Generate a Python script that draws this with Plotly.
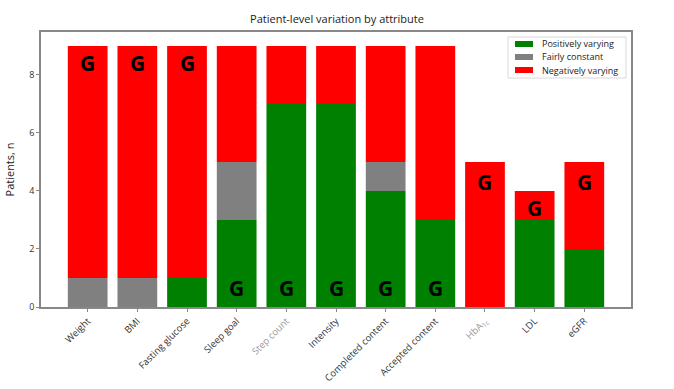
import plotly.graph_objects as go

categories = ["Weight", "BMI", "Fasting glucose", "Sleep goal", "Step count", "Intensity",
              "Completed content", "Accepted content", "HbA1c", "LDL", "eGFR"]
tick_labels = ["Weight", "BMI", "Fasting glucose", "Sleep goal",
               "<span style='color:#999999'>Step count</span>", "Intensity",
               "Completed content", "Accepted content",
               "<span style='color:#999999'>HbA<sub>1c</sub></span>", "LDL", "eGFR"]
positive = [0, 0, 1, 3, 7, 7, 4, 3, 0, 3, 2]
constant = [1, 1, 0, 2, 0, 0, 1, 0, 0, 0, 0]
negative = [8, 8, 8, 4, 2, 2, 4, 6, 5, 1, 3]
g_y = [8.4, 8.4, 8.4, 0.65, 0.65, 0.65, 0.65, 0.65, 4.3, 3.4, 4.3]
series_names = ["Positively varying", "Fairly constant", "Negatively varying"]
series_colors = ["#008000", "#808080", "#ff0000"]

x = list(range(len(categories)))
base_neg = [p + c for p, c in zip(positive, constant)]

fig = go.Figure()
fig.add_trace(go.Bar(x=x, y=positive, name=series_names[0], marker_color=series_colors[0],
                     marker_line_width=0, width=0.8))
fig.add_trace(go.Bar(x=x, y=constant, base=positive, name=series_names[1], marker_color=series_colors[1],
                     marker_line_width=0, width=0.8))
fig.add_trace(go.Bar(x=x, y=negative, base=base_neg, name=series_names[2], marker_color=series_colors[2],
                     marker_line_width=0, width=0.8))

for xi, yi in zip(x, g_y):
    fig.add_annotation(x=xi, y=yi, text="<b>G</b>", showarrow=False,
                       font=dict(size=21, color="black", family="Open Sans"))

# compact legend (matplotlib style)
fig.add_shape(type="rect", xref="paper", yref="paper", x0=0.7915, x1=0.9915, y0=0.8327, y1=0.9818,
              line=dict(color="#d8d8d8", width=1), fillcolor="white", layer="above")
item_y = [0.9564, 0.9091, 0.8618]
for name, col, yy in zip(series_names, series_colors, item_y):
    fig.add_shape(type="rect", xref="paper", yref="paper", x0=0.8034, x1=0.8339,
                  y0=yy - 0.0109, y1=yy + 0.0109, line=dict(width=0), fillcolor=col, layer="above")
    fig.add_annotation(xref="paper", yref="paper", x=0.8458, y=yy, text=name, showarrow=False,
                       xanchor="left", yanchor="middle", font=dict(size=9, color="#222"))

fig.update_layout(
    width=674, height=389,
    margin=dict(l=41, r=43, t=32, b=82),
    barmode="overlay",
    plot_bgcolor="white", paper_bgcolor="white",
    font=dict(family="Open Sans", size=10, color="#222"),
    title=dict(text="Patient-level variation by attribute", x=0.5, xanchor="center",
               y=1 - 19 / 389, yanchor="middle", font=dict(size=11, color="#222")),
    showlegend=False,
    xaxis=dict(range=[-0.94, 10.94], tickmode="array", tickvals=x, ticktext=tick_labels,
               tickangle=-45, ticks="outside", ticklen=3, tickcolor="#888", automargin=False,
               showline=True, linecolor="#888", linewidth=1.5, mirror=True,
               showgrid=False, zeroline=False, tickfont=dict(size=9.5, color="#333")),
    yaxis=dict(range=[0, 9.48], tickvals=[0, 2, 4, 6, 8], ticks="outside", ticklen=3,
               tickcolor="#888", showline=True, linecolor="#888", linewidth=1.5, mirror=True,
               automargin=False,
               showgrid=False, zeroline=False, tickfont=dict(size=9, color="#333"),
               title=dict(text="Patients, n", font=dict(size=11, color="#222"), standoff=12)),
)

fig.write_html("out.html")
